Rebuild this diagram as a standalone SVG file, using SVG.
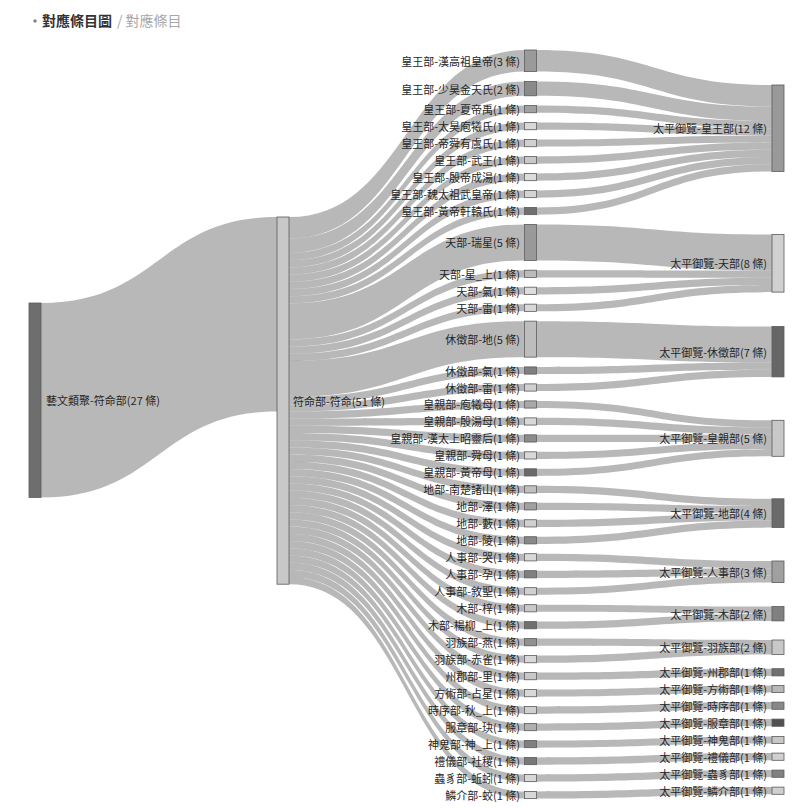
<svg xmlns="http://www.w3.org/2000/svg" width="799" height="808" viewBox="0 0 799 808">
<style>
.bg{fill:#ffffff}
.link{fill:#898989;fill-opacity:0.6}
.node rect{stroke:#5a5a5a;stroke-width:0.8}
.lbl{font-family:"Noto Sans CJK TC","Noto Sans",sans-serif;font-size:11px;fill:#262626;dominant-baseline:central}
.end{text-anchor:end}
.h1{font-family:"Noto Sans CJK TC","Noto Sans",sans-serif;font-size:14px;font-weight:bold;fill:#333}
.h2{font-family:"Noto Sans CJK TC","Noto Sans",sans-serif;font-size:14px;fill:#a8a8a8}
</style>
<rect class="bg" x="0" y="0" width="799" height="808"/>
<g id="header">
<circle cx="35" cy="21" r="1.8" fill="#888"/>
<text class="h1" x="42" y="26">對應條目圖</text>
<text class="h2" x="117" y="26">/ 對應條目</text>
</g>
<g id="links">
<path class="link" d="M41,303 C159,303 159,217 277,217 L277,411.4 C159,411.4 159,497.4 41,497.4 Z"/>
<path class="link" d="M289,217 C406.75,217 406.75,50 524.5,50 L524.5,71.6 C406.75,71.6 406.75,238.6 289,238.6 Z"/>
<path class="link" d="M289,238.6 C406.75,238.6 406.75,81.38 524.5,81.38 L524.5,95.78 C406.75,95.78 406.75,253 289,253 Z"/>
<path class="link" d="M289,253 C406.75,253 406.75,105.56 524.5,105.56 L524.5,112.76 C406.75,112.76 406.75,260.2 289,260.2 Z"/>
<path class="link" d="M289,260.2 C406.75,260.2 406.75,122.54 524.5,122.54 L524.5,129.74 C406.75,129.74 406.75,267.4 289,267.4 Z"/>
<path class="link" d="M289,267.4 C406.75,267.4 406.75,139.52 524.5,139.52 L524.5,146.72 C406.75,146.72 406.75,274.6 289,274.6 Z"/>
<path class="link" d="M289,274.6 C406.75,274.6 406.75,156.5 524.5,156.5 L524.5,163.7 C406.75,163.7 406.75,281.8 289,281.8 Z"/>
<path class="link" d="M289,281.8 C406.75,281.8 406.75,173.48 524.5,173.48 L524.5,180.68 C406.75,180.68 406.75,289 289,289 Z"/>
<path class="link" d="M289,289 C406.75,289 406.75,190.46 524.5,190.46 L524.5,197.66 C406.75,197.66 406.75,296.2 289,296.2 Z"/>
<path class="link" d="M289,296.2 C406.75,296.2 406.75,207.44 524.5,207.44 L524.5,214.64 C406.75,214.64 406.75,303.4 289,303.4 Z"/>
<path class="link" d="M289,303.4 C406.75,303.4 406.75,224.42 524.5,224.42 L524.5,260.42 C406.75,260.42 406.75,339.4 289,339.4 Z"/>
<path class="link" d="M289,339.4 C406.75,339.4 406.75,270.2 524.5,270.2 L524.5,277.4 C406.75,277.4 406.75,346.6 289,346.6 Z"/>
<path class="link" d="M289,346.6 C406.75,346.6 406.75,287.18 524.5,287.18 L524.5,294.38 C406.75,294.38 406.75,353.8 289,353.8 Z"/>
<path class="link" d="M289,353.8 C406.75,353.8 406.75,304.16 524.5,304.16 L524.5,311.36 C406.75,311.36 406.75,361 289,361 Z"/>
<path class="link" d="M289,361 C406.75,361 406.75,321.14 524.5,321.14 L524.5,357.14 C406.75,357.14 406.75,397 289,397 Z"/>
<path class="link" d="M289,397 C406.75,397 406.75,366.92 524.5,366.92 L524.5,374.12 C406.75,374.12 406.75,404.2 289,404.2 Z"/>
<path class="link" d="M289,404.2 C406.75,404.2 406.75,383.9 524.5,383.9 L524.5,391.1 C406.75,391.1 406.75,411.4 289,411.4 Z"/>
<path class="link" d="M289,411.4 C406.75,411.4 406.75,400.88 524.5,400.88 L524.5,408.08 C406.75,408.08 406.75,418.6 289,418.6 Z"/>
<path class="link" d="M289,418.6 C406.75,418.6 406.75,417.86 524.5,417.86 L524.5,425.06 C406.75,425.06 406.75,425.8 289,425.8 Z"/>
<path class="link" d="M289,425.8 C406.75,425.8 406.75,434.84 524.5,434.84 L524.5,442.04 C406.75,442.04 406.75,433 289,433 Z"/>
<path class="link" d="M289,433 C406.75,433 406.75,451.82 524.5,451.82 L524.5,459.02 C406.75,459.02 406.75,440.2 289,440.2 Z"/>
<path class="link" d="M289,440.2 C406.75,440.2 406.75,468.8 524.5,468.8 L524.5,476 C406.75,476 406.75,447.4 289,447.4 Z"/>
<path class="link" d="M289,447.4 C406.75,447.4 406.75,485.78 524.5,485.78 L524.5,492.98 C406.75,492.98 406.75,454.6 289,454.6 Z"/>
<path class="link" d="M289,454.6 C406.75,454.6 406.75,502.76 524.5,502.76 L524.5,509.96 C406.75,509.96 406.75,461.8 289,461.8 Z"/>
<path class="link" d="M289,461.8 C406.75,461.8 406.75,519.74 524.5,519.74 L524.5,526.94 C406.75,526.94 406.75,469 289,469 Z"/>
<path class="link" d="M289,469 C406.75,469 406.75,536.72 524.5,536.72 L524.5,543.92 C406.75,543.92 406.75,476.2 289,476.2 Z"/>
<path class="link" d="M289,476.2 C406.75,476.2 406.75,553.7 524.5,553.7 L524.5,560.9 C406.75,560.9 406.75,483.4 289,483.4 Z"/>
<path class="link" d="M289,483.4 C406.75,483.4 406.75,570.68 524.5,570.68 L524.5,577.88 C406.75,577.88 406.75,490.6 289,490.6 Z"/>
<path class="link" d="M289,490.6 C406.75,490.6 406.75,587.66 524.5,587.66 L524.5,594.86 C406.75,594.86 406.75,497.8 289,497.8 Z"/>
<path class="link" d="M289,497.8 C406.75,497.8 406.75,604.64 524.5,604.64 L524.5,611.84 C406.75,611.84 406.75,505 289,505 Z"/>
<path class="link" d="M289,505 C406.75,505 406.75,621.62 524.5,621.62 L524.5,628.82 C406.75,628.82 406.75,512.2 289,512.2 Z"/>
<path class="link" d="M289,512.2 C406.75,512.2 406.75,638.6 524.5,638.6 L524.5,645.8 C406.75,645.8 406.75,519.4 289,519.4 Z"/>
<path class="link" d="M289,519.4 C406.75,519.4 406.75,655.58 524.5,655.58 L524.5,662.78 C406.75,662.78 406.75,526.6 289,526.6 Z"/>
<path class="link" d="M289,526.6 C406.75,526.6 406.75,672.56 524.5,672.56 L524.5,679.76 C406.75,679.76 406.75,533.8 289,533.8 Z"/>
<path class="link" d="M289,533.8 C406.75,533.8 406.75,689.54 524.5,689.54 L524.5,696.74 C406.75,696.74 406.75,541 289,541 Z"/>
<path class="link" d="M289,541 C406.75,541 406.75,706.52 524.5,706.52 L524.5,713.72 C406.75,713.72 406.75,548.2 289,548.2 Z"/>
<path class="link" d="M289,548.2 C406.75,548.2 406.75,723.5 524.5,723.5 L524.5,730.7 C406.75,730.7 406.75,555.4 289,555.4 Z"/>
<path class="link" d="M289,555.4 C406.75,555.4 406.75,740.48 524.5,740.48 L524.5,747.68 C406.75,747.68 406.75,562.6 289,562.6 Z"/>
<path class="link" d="M289,562.6 C406.75,562.6 406.75,757.46 524.5,757.46 L524.5,764.66 C406.75,764.66 406.75,569.8 289,569.8 Z"/>
<path class="link" d="M289,569.8 C406.75,569.8 406.75,774.44 524.5,774.44 L524.5,781.64 C406.75,781.64 406.75,577 289,577 Z"/>
<path class="link" d="M289,577 C406.75,577 406.75,791.42 524.5,791.42 L524.5,798.62 C406.75,798.62 406.75,584.2 289,584.2 Z"/>
<path class="link" d="M536.5,50 C654.25,50 654.25,85 772,85 L772,106.6 C654.25,106.6 654.25,71.6 536.5,71.6 Z"/>
<path class="link" d="M536.5,81.38 C654.25,81.38 654.25,106.6 772,106.6 L772,121 C654.25,121 654.25,95.78 536.5,95.78 Z"/>
<path class="link" d="M536.5,105.56 C654.25,105.56 654.25,121 772,121 L772,128.2 C654.25,128.2 654.25,112.76 536.5,112.76 Z"/>
<path class="link" d="M536.5,122.54 C654.25,122.54 654.25,128.2 772,128.2 L772,135.4 C654.25,135.4 654.25,129.74 536.5,129.74 Z"/>
<path class="link" d="M536.5,139.52 C654.25,139.52 654.25,135.4 772,135.4 L772,142.6 C654.25,142.6 654.25,146.72 536.5,146.72 Z"/>
<path class="link" d="M536.5,156.5 C654.25,156.5 654.25,142.6 772,142.6 L772,149.8 C654.25,149.8 654.25,163.7 536.5,163.7 Z"/>
<path class="link" d="M536.5,173.48 C654.25,173.48 654.25,149.8 772,149.8 L772,157 C654.25,157 654.25,180.68 536.5,180.68 Z"/>
<path class="link" d="M536.5,190.46 C654.25,190.46 654.25,157 772,157 L772,164.2 C654.25,164.2 654.25,197.66 536.5,197.66 Z"/>
<path class="link" d="M536.5,207.44 C654.25,207.44 654.25,164.2 772,164.2 L772,171.4 C654.25,171.4 654.25,214.64 536.5,214.64 Z"/>
<path class="link" d="M536.5,224.42 C654.25,224.42 654.25,234.5 772,234.5 L772,270.5 C654.25,270.5 654.25,260.42 536.5,260.42 Z"/>
<path class="link" d="M536.5,270.2 C654.25,270.2 654.25,270.5 772,270.5 L772,277.7 C654.25,277.7 654.25,277.4 536.5,277.4 Z"/>
<path class="link" d="M536.5,287.18 C654.25,287.18 654.25,277.7 772,277.7 L772,284.9 C654.25,284.9 654.25,294.38 536.5,294.38 Z"/>
<path class="link" d="M536.5,304.16 C654.25,304.16 654.25,284.9 772,284.9 L772,292.1 C654.25,292.1 654.25,311.36 536.5,311.36 Z"/>
<path class="link" d="M536.5,321.14 C654.25,321.14 654.25,326.5 772,326.5 L772,362.5 C654.25,362.5 654.25,357.14 536.5,357.14 Z"/>
<path class="link" d="M536.5,366.92 C654.25,366.92 654.25,362.5 772,362.5 L772,369.7 C654.25,369.7 654.25,374.12 536.5,374.12 Z"/>
<path class="link" d="M536.5,383.9 C654.25,383.9 654.25,369.7 772,369.7 L772,376.9 C654.25,376.9 654.25,391.1 536.5,391.1 Z"/>
<path class="link" d="M536.5,400.88 C654.25,400.88 654.25,420.3 772,420.3 L772,427.5 C654.25,427.5 654.25,408.08 536.5,408.08 Z"/>
<path class="link" d="M536.5,417.86 C654.25,417.86 654.25,427.5 772,427.5 L772,434.7 C654.25,434.7 654.25,425.06 536.5,425.06 Z"/>
<path class="link" d="M536.5,434.84 C654.25,434.84 654.25,434.7 772,434.7 L772,441.9 C654.25,441.9 654.25,442.04 536.5,442.04 Z"/>
<path class="link" d="M536.5,451.82 C654.25,451.82 654.25,441.9 772,441.9 L772,449.1 C654.25,449.1 654.25,459.02 536.5,459.02 Z"/>
<path class="link" d="M536.5,468.8 C654.25,468.8 654.25,449.1 772,449.1 L772,456.3 C654.25,456.3 654.25,476 536.5,476 Z"/>
<path class="link" d="M536.5,485.78 C654.25,485.78 654.25,498.8 772,498.8 L772,506 C654.25,506 654.25,492.98 536.5,492.98 Z"/>
<path class="link" d="M536.5,502.76 C654.25,502.76 654.25,506 772,506 L772,513.2 C654.25,513.2 654.25,509.96 536.5,509.96 Z"/>
<path class="link" d="M536.5,519.74 C654.25,519.74 654.25,513.2 772,513.2 L772,520.4 C654.25,520.4 654.25,526.94 536.5,526.94 Z"/>
<path class="link" d="M536.5,536.72 C654.25,536.72 654.25,520.4 772,520.4 L772,527.6 C654.25,527.6 654.25,543.92 536.5,543.92 Z"/>
<path class="link" d="M536.5,553.7 C654.25,553.7 654.25,561 772,561 L772,568.2 C654.25,568.2 654.25,560.9 536.5,560.9 Z"/>
<path class="link" d="M536.5,570.68 C654.25,570.68 654.25,568.2 772,568.2 L772,575.4 C654.25,575.4 654.25,577.88 536.5,577.88 Z"/>
<path class="link" d="M536.5,587.66 C654.25,587.66 654.25,575.4 772,575.4 L772,582.6 C654.25,582.6 654.25,594.86 536.5,594.86 Z"/>
<path class="link" d="M536.5,604.64 C654.25,604.64 654.25,606.5 772,606.5 L772,613.7 C654.25,613.7 654.25,611.84 536.5,611.84 Z"/>
<path class="link" d="M536.5,621.62 C654.25,621.62 654.25,613.7 772,613.7 L772,620.9 C654.25,620.9 654.25,628.82 536.5,628.82 Z"/>
<path class="link" d="M536.5,638.6 C654.25,638.6 654.25,640 772,640 L772,647.2 C654.25,647.2 654.25,645.8 536.5,645.8 Z"/>
<path class="link" d="M536.5,655.58 C654.25,655.58 654.25,647.2 772,647.2 L772,654.4 C654.25,654.4 654.25,662.78 536.5,662.78 Z"/>
<path class="link" d="M536.5,672.56 C654.25,672.56 654.25,668.7 772,668.7 L772,675.9 C654.25,675.9 654.25,679.76 536.5,679.76 Z"/>
<path class="link" d="M536.5,689.54 C654.25,689.54 654.25,685.4 772,685.4 L772,692.6 C654.25,692.6 654.25,696.74 536.5,696.74 Z"/>
<path class="link" d="M536.5,706.52 C654.25,706.52 654.25,702.1 772,702.1 L772,709.3 C654.25,709.3 654.25,713.72 536.5,713.72 Z"/>
<path class="link" d="M536.5,723.5 C654.25,723.5 654.25,719.1 772,719.1 L772,726.3 C654.25,726.3 654.25,730.7 536.5,730.7 Z"/>
<path class="link" d="M536.5,740.48 C654.25,740.48 654.25,736.4 772,736.4 L772,743.6 C654.25,743.6 654.25,747.68 536.5,747.68 Z"/>
<path class="link" d="M536.5,757.46 C654.25,757.46 654.25,753.1 772,753.1 L772,760.3 C654.25,760.3 654.25,764.66 536.5,764.66 Z"/>
<path class="link" d="M536.5,774.44 C654.25,774.44 654.25,770.1 772,770.1 L772,777.3 C654.25,777.3 654.25,781.64 536.5,781.64 Z"/>
<path class="link" d="M536.5,791.42 C654.25,791.42 654.25,787.1 772,787.1 L772,794.3 C654.25,794.3 654.25,798.62 536.5,798.62 Z"/>
</g>
<g id="n-yiwen" class="node"><rect x="29" y="303" width="12" height="194.4" fill="#6e6e6e"/><text class="lbl" x="46" y="400.2">藝文類聚-符命部(27 條)</text></g>
<g id="n-fuming" class="node"><rect x="277" y="217" width="12" height="367.2" fill="#c8c8c8"/><text class="lbl" x="293" y="400.6">符命部-符命(51 條)</text></g>
<g id="c3-0" class="node"><rect x="524.5" y="50" width="12" height="21.6" fill="#9a9a9a"/><text class="lbl end" x="520" y="60.8">皇王部-漢高祖皇帝(3 條)</text></g>
<g id="c3-1" class="node"><rect x="524.5" y="81.38" width="12" height="14.4" fill="#8a8a8a"/><text class="lbl end" x="520" y="88.58">皇王部-少昊金天氏(2 條)</text></g>
<g id="c3-2" class="node"><rect x="524.5" y="105.56" width="12" height="7.2" fill="#a0a0a0"/><text class="lbl end" x="520" y="109.16">皇王部-夏帝禹(1 條)</text></g>
<g id="c3-3" class="node"><rect x="524.5" y="122.54" width="12" height="7.2" fill="#d8d8d8"/><text class="lbl end" x="520" y="126.14">皇王部-太昊庖犧氏(1 條)</text></g>
<g id="c3-4" class="node"><rect x="524.5" y="139.52" width="12" height="7.2" fill="#d0d0d0"/><text class="lbl end" x="520" y="143.12">皇王部-帝舜有虞氏(1 條)</text></g>
<g id="c3-5" class="node"><rect x="524.5" y="156.5" width="12" height="7.2" fill="#c8c8c8"/><text class="lbl end" x="520" y="160.1">皇王部-武王(1 條)</text></g>
<g id="c3-6" class="node"><rect x="524.5" y="173.48" width="12" height="7.2" fill="#dcdcdc"/><text class="lbl end" x="520" y="177.08">皇王部-殷帝成湯(1 條)</text></g>
<g id="c3-7" class="node"><rect x="524.5" y="190.46" width="12" height="7.2" fill="#d4d4d4"/><text class="lbl end" x="520" y="194.06">皇王部-魏太祖武皇帝(1 條)</text></g>
<g id="c3-8" class="node"><rect x="524.5" y="207.44" width="12" height="7.2" fill="#707070"/><text class="lbl end" x="520" y="211.04">皇王部-黃帝軒轅氏(1 條)</text></g>
<g id="c3-9" class="node"><rect x="524.5" y="224.42" width="12" height="36" fill="#999999"/><text class="lbl end" x="520" y="242.42">天部-瑞星(5 條)</text></g>
<g id="c3-10" class="node"><rect x="524.5" y="270.2" width="12" height="7.2" fill="#bbbbbb"/><text class="lbl end" x="520" y="273.8">天部-星_上(1 條)</text></g>
<g id="c3-11" class="node"><rect x="524.5" y="287.18" width="12" height="7.2" fill="#dddddd"/><text class="lbl end" x="520" y="290.78">天部-氣(1 條)</text></g>
<g id="c3-12" class="node"><rect x="524.5" y="304.16" width="12" height="7.2" fill="#d8d8d8"/><text class="lbl end" x="520" y="307.76">天部-雷(1 條)</text></g>
<g id="c3-13" class="node"><rect x="524.5" y="321.14" width="12" height="36" fill="#bdbdbd"/><text class="lbl end" x="520" y="339.14">休徵部-地(5 條)</text></g>
<g id="c3-14" class="node"><rect x="524.5" y="366.92" width="12" height="7.2" fill="#808080"/><text class="lbl end" x="520" y="370.52">休徵部-氣(1 條)</text></g>
<g id="c3-15" class="node"><rect x="524.5" y="383.9" width="12" height="7.2" fill="#d0d0d0"/><text class="lbl end" x="520" y="387.5">休徵部-雷(1 條)</text></g>
<g id="c3-16" class="node"><rect x="524.5" y="400.88" width="12" height="7.2" fill="#a8a8a8"/><text class="lbl end" x="520" y="404.48">皇親部-庖犧母(1 條)</text></g>
<g id="c3-17" class="node"><rect x="524.5" y="417.86" width="12" height="7.2" fill="#d8d8d8"/><text class="lbl end" x="520" y="421.46">皇親部-殷湯母(1 條)</text></g>
<g id="c3-18" class="node"><rect x="524.5" y="434.84" width="12" height="7.2" fill="#8c8c8c"/><text class="lbl end" x="520" y="438.44">皇親部-漢太上昭靈后(1 條)</text></g>
<g id="c3-19" class="node"><rect x="524.5" y="451.82" width="12" height="7.2" fill="#d8d8d8"/><text class="lbl end" x="520" y="455.42">皇親部-舜母(1 條)</text></g>
<g id="c3-20" class="node"><rect x="524.5" y="468.8" width="12" height="7.2" fill="#6a6a6a"/><text class="lbl end" x="520" y="472.4">皇親部-黃帝母(1 條)</text></g>
<g id="c3-21" class="node"><rect x="524.5" y="485.78" width="12" height="7.2" fill="#c0c0c0"/><text class="lbl end" x="520" y="489.38">地部-南楚諸山(1 條)</text></g>
<g id="c3-22" class="node"><rect x="524.5" y="502.76" width="12" height="7.2" fill="#a0a0a0"/><text class="lbl end" x="520" y="506.36">地部-澤(1 條)</text></g>
<g id="c3-23" class="node"><rect x="524.5" y="519.74" width="12" height="7.2" fill="#d0d0d0"/><text class="lbl end" x="520" y="523.34">地部-藪(1 條)</text></g>
<g id="c3-24" class="node"><rect x="524.5" y="536.72" width="12" height="7.2" fill="#888888"/><text class="lbl end" x="520" y="540.32">地部-陵(1 條)</text></g>
<g id="c3-25" class="node"><rect x="524.5" y="553.7" width="12" height="7.2" fill="#d8d8d8"/><text class="lbl end" x="520" y="557.3">人事部-哭(1 條)</text></g>
<g id="c3-26" class="node"><rect x="524.5" y="570.68" width="12" height="7.2" fill="#808080"/><text class="lbl end" x="520" y="574.28">人事部-孕(1 條)</text></g>
<g id="c3-27" class="node"><rect x="524.5" y="587.66" width="12" height="7.2" fill="#d0d0d0"/><text class="lbl end" x="520" y="591.26">人事部-敘聖(1 條)</text></g>
<g id="c3-28" class="node"><rect x="524.5" y="604.64" width="12" height="7.2" fill="#c8c8c8"/><text class="lbl end" x="520" y="608.24">木部-梓(1 條)</text></g>
<g id="c3-29" class="node"><rect x="524.5" y="621.62" width="12" height="7.2" fill="#707070"/><text class="lbl end" x="520" y="625.22">木部-楊柳_上(1 條)</text></g>
<g id="c3-30" class="node"><rect x="524.5" y="638.6" width="12" height="7.2" fill="#909090"/><text class="lbl end" x="520" y="642.2">羽族部-燕(1 條)</text></g>
<g id="c3-31" class="node"><rect x="524.5" y="655.58" width="12" height="7.2" fill="#d8d8d8"/><text class="lbl end" x="520" y="659.18">羽族部-赤雀(1 條)</text></g>
<g id="c3-32" class="node"><rect x="524.5" y="672.56" width="12" height="7.2" fill="#c8c8c8"/><text class="lbl end" x="520" y="676.16">州郡部-里(1 條)</text></g>
<g id="c3-33" class="node"><rect x="524.5" y="689.54" width="12" height="7.2" fill="#d8d8d8"/><text class="lbl end" x="520" y="693.14">方術部-占星(1 條)</text></g>
<g id="c3-34" class="node"><rect x="524.5" y="706.52" width="12" height="7.2" fill="#d0d0d0"/><text class="lbl end" x="520" y="710.12">時序部-秋_上(1 條)</text></g>
<g id="c3-35" class="node"><rect x="524.5" y="723.5" width="12" height="7.2" fill="#b0b0b0"/><text class="lbl end" x="520" y="727.1">服章部-玦(1 條)</text></g>
<g id="c3-36" class="node"><rect x="524.5" y="740.48" width="12" height="7.2" fill="#808080"/><text class="lbl end" x="520" y="744.08">神鬼部-神_上(1 條)</text></g>
<g id="c3-37" class="node"><rect x="524.5" y="757.46" width="12" height="7.2" fill="#787878"/><text class="lbl end" x="520" y="761.06">禮儀部-社稷(1 條)</text></g>
<g id="c3-38" class="node"><rect x="524.5" y="774.44" width="12" height="7.2" fill="#d8d8d8"/><text class="lbl end" x="520" y="778.04">蟲豸部-蚯蚓(1 條)</text></g>
<g id="c3-39" class="node"><rect x="524.5" y="791.42" width="12" height="7.2" fill="#d8d8d8"/><text class="lbl end" x="520" y="795.02">鱗介部-蛟(1 條)</text></g>
<g id="r-huangwang" class="node"><rect x="772" y="85" width="12" height="86.4" fill="#999999"/><text class="lbl end" x="767" y="128.2">太平御覽-皇王部(12 條)</text></g>
<g id="r-tian" class="node"><rect x="772" y="234.5" width="12" height="57.6" fill="#d0d0d0"/><text class="lbl end" x="767" y="263.3">太平御覽-天部(8 條)</text></g>
<g id="r-xiuzheng" class="node"><rect x="772" y="326.5" width="12" height="50.4" fill="#666666"/><text class="lbl end" x="767" y="351.7">太平御覽-休徵部(7 條)</text></g>
<g id="r-huangqin" class="node"><rect x="772" y="420.3" width="12" height="36" fill="#c8c8c8"/><text class="lbl end" x="767" y="438.3">太平御覽-皇親部(5 條)</text></g>
<g id="r-di" class="node"><rect x="772" y="498.8" width="12" height="28.8" fill="#6a6a6a"/><text class="lbl end" x="767" y="513.2">太平御覽-地部(4 條)</text></g>
<g id="r-renshi" class="node"><rect x="772" y="561" width="12" height="21.6" fill="#a0a0a0"/><text class="lbl end" x="767" y="571.8">太平御覽-人事部(3 條)</text></g>
<g id="r-mu" class="node"><rect x="772" y="606.5" width="12" height="14.4" fill="#808080"/><text class="lbl end" x="767" y="613.7">太平御覽-木部(2 條)</text></g>
<g id="r-yuzu" class="node"><rect x="772" y="640" width="12" height="14.4" fill="#c8c8c8"/><text class="lbl end" x="767" y="647.2">太平御覽-羽族部(2 條)</text></g>
<g id="r-zhoujun" class="node"><rect x="772" y="668.7" width="12" height="7.2" fill="#707070"/><text class="lbl end" x="767" y="672.3">太平御覽-州郡部(1 條)</text></g>
<g id="r-fangshu" class="node"><rect x="772" y="685.4" width="12" height="7.2" fill="#b8b8b8"/><text class="lbl end" x="767" y="689">太平御覽-方術部(1 條)</text></g>
<g id="r-shixu" class="node"><rect x="772" y="702.1" width="12" height="7.2" fill="#888888"/><text class="lbl end" x="767" y="705.7">太平御覽-時序部(1 條)</text></g>
<g id="r-fuzhang" class="node"><rect x="772" y="719.1" width="12" height="7.2" fill="#505050"/><text class="lbl end" x="767" y="722.7">太平御覽-服章部(1 條)</text></g>
<g id="r-shengui" class="node"><rect x="772" y="736.4" width="12" height="7.2" fill="#c8c8c8"/><text class="lbl end" x="767" y="740">太平御覽-神鬼部(1 條)</text></g>
<g id="r-liyi" class="node"><rect x="772" y="753.1" width="12" height="7.2" fill="#d0d0d0"/><text class="lbl end" x="767" y="756.7">太平御覽-禮儀部(1 條)</text></g>
<g id="r-chongzhi" class="node"><rect x="772" y="770.1" width="12" height="7.2" fill="#808080"/><text class="lbl end" x="767" y="773.7">太平御覽-蟲豸部(1 條)</text></g>
<g id="r-linjie" class="node"><rect x="772" y="787.1" width="12" height="7.2" fill="#d0d0d0"/><text class="lbl end" x="767" y="790.7">太平御覽-鱗介部(1 條)</text></g>
</svg>
